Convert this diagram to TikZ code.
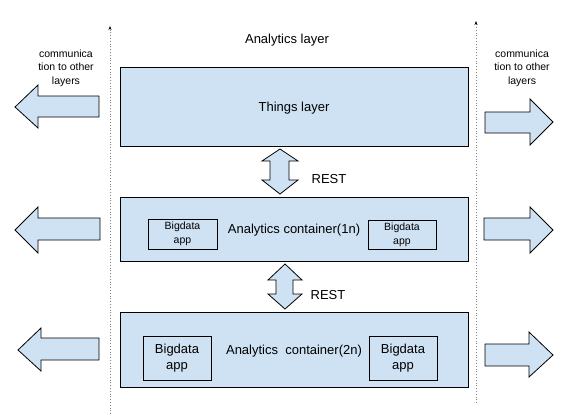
\documentclass[tikz,border=0pt]{standalone}
\usepackage{fontspec}
\setmainfont{Liberation Sans}
\usetikzlibrary{arrows.meta,positioning}

\definecolor{layerblue}{HTML}{CFE2F3}

\tikzset{
  layerbox/.style={draw, fill=layerblue, line width=0.9pt, minimum width=348pt, text depth=0pt},
  appbox/.style={draw, fill=layerblue, line width=0.9pt, align=center, inner sep=0pt},
  blockarrow/.style={draw, fill=layerblue, line width=0.8pt, line join=miter},
  bigtext/.style={font=\fontsize{13}{15}\selectfont},
  smalltext/.style={font=\fontsize{10.5}{13.5}\selectfont, align=center},
  border/.style={draw=gray, dotted, line width=0.8pt, -{Stealth[length=4pt,width=3pt,color=black]}}
}

\begin{document}
\begin{tikzpicture}[x=1pt, y=-1pt]
  \useasboundingbox (0,0) rectangle (576,416);

  % layer borders
  \coordinate (lb) at (110,414);
  \coordinate (lt) at (110,26);
  \coordinate (rb) at (476,403);
  \coordinate (rt) at (476,21);
  \draw[border] (lb) -- (lt);
  \draw[border] (rb) -- (rt);

  \node[bigtext] (title) at (287,40) {Analytics layer};

  % the three stacked layers
  \node[layerbox, bigtext, minimum height=79pt] (things) at (294,106.5) {Things layer};
  \node[layerbox, bigtext, minimum height=64pt] (cont1) at (294,229) {Analytics container(1n)};
  \node[layerbox, bigtext, minimum height=75pt] (cont2) at (294,349.5) {Analytics\ \ container(2n)};

  % apps inside the containers
  \node[appbox, minimum width=69pt, minimum height=30pt,
        font=\fontsize{10.5}{14}\selectfont] (app1l) at (182.5,234) {Bigdata\\app};
  \node[appbox, minimum width=68pt, minimum height=29pt,
        font=\fontsize{10.5}{14}\selectfont] (app1r) at (402,234.5) {Bigdata\\app};
  \node[appbox, minimum width=68pt, minimum height=44pt,
        font=\fontsize{13}{16}\selectfont] (app2l) at (177,358) {Bigdata\\app};
  \node[appbox, minimum width=68pt, minimum height=44pt,
        font=\fontsize{13}{16}\selectfont] (app2r) at (403,358) {Bigdata\\app};

  % REST links between layers
  \draw[blockarrow] (280,149) -- (298,161) -- (289,161) -- (289,180) -- (298,180)
    -- (280,194) -- (262,180) -- (270,180) -- (270,161) -- (262,161) -- cycle;
  \node[bigtext] (rest1) at (329,179) {REST};
  \draw[blockarrow] (285,264) -- (302,280) -- (293,280) -- (293,294) -- (302,294)
    -- (285,309) -- (268,294) -- (276,294) -- (276,280) -- (268,280) -- cycle;
  \node[bigtext] (rest2) at (328,295) {REST};

  % communication to other layers
  \node[smalltext] (comml) at (66,68) {communica\\tion to other\\layers};
  \node[smalltext] (commr) at (522,68) {communica\\tion to other\\layers};

  % left
  \draw[blockarrow] (15,107) -- (38,85) -- (38,96) -- (99,96) -- (99,117)
    -- (38,117) -- (38,128) -- cycle;
  \draw[blockarrow] (15,230) -- (38,207) -- (38,218) -- (100,218) -- (100,240)
    -- (38,240) -- (38,253) -- cycle;
  \draw[blockarrow] (18,350) -- (41,328) -- (41,338) -- (99,338) -- (99,360)
    -- (41,360) -- (41,371) -- cycle;
  % right
  \draw[blockarrow] (485,112) -- (530,112) -- (530,99) -- (553,122) -- (530,145)
    -- (530,133) -- (485,133) -- cycle;
  \draw[blockarrow] (484,218) -- (530,218) -- (530,207) -- (553,230) -- (530,253)
    -- (530,240) -- (484,240) -- cycle;
  \draw[blockarrow] (485,344) -- (529,344) -- (529,332) -- (553,355) -- (529,377)
    -- (529,366) -- (485,366) -- cycle;
\end{tikzpicture}
\end{document}
